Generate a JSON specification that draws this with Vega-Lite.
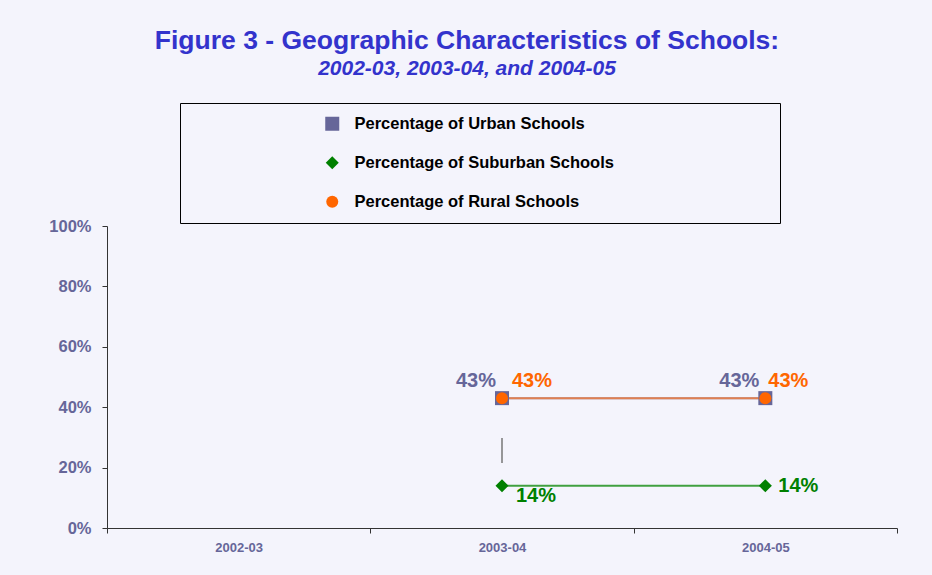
{
  "$schema": "https://vega.github.io/schema/vega-lite/v6.json",
  "width": 790,
  "height": 302,
  "autosize": {"type": "none"},
  "padding": {"left": 107, "top": 226, "right": 35, "bottom": 47},
  "background": "#F4F4FC",
  "config": {"font": "Liberation Sans", "view": {"stroke": null}},
  "title": {
    "text": "Figure 3 - Geographic Characteristics of Schools:",
    "subtitle": "2002-03, 2003-04, and 2004-05",
    "anchor": "middle",
    "dx": -35,
    "offset": 24,
    "font": "Liberation Sans",
    "fontSize": 26.5,
    "fontWeight": "bold",
    "color": "#3333CC",
    "subtitleFont": "Liberation Sans",
    "subtitleFontSize": 21,
    "subtitleFontStyle": "italic",
    "subtitleFontWeight": "bold",
    "subtitleColor": "#3333CC",
    "subtitlePadding": 3
  },
  "datasets": {
    "schools": [
      {"year": "2003-04", "series": "Percentage of Urban Schools", "value": 0.43},
      {"year": "2004-05", "series": "Percentage of Urban Schools", "value": 0.43},
      {"year": "2003-04", "series": "Percentage of Suburban Schools", "value": 0.14},
      {"year": "2004-05", "series": "Percentage of Suburban Schools", "value": 0.14},
      {"year": "2003-04", "series": "Percentage of Rural Schools", "value": 0.43},
      {"year": "2004-05", "series": "Percentage of Rural Schools", "value": 0.43}
    ],
    "leader": [
      {"year": "2003-04", "lo": 0.215, "hi": 0.298}
    ]
  },
  "data": {"name": "schools"},
  "encoding": {
    "x": {
      "field": "year",
      "type": "nominal",
      "scale": {"domain": ["2002-03", "2003-04", "2004-05"], "paddingInner": 0, "paddingOuter": 0},
      "axis": {
        "title": null,
        "labelAngle": 0,
        "tickBand": "extent",
        "tickSize": 5,
        "tickColor": "#333333",
        "domainColor": "#333333",
        "labelPadding": 8,
        "labelFontSize": 13,
        "labelFontWeight": "bold",
        "labelColor": "#666699",
        "grid": false
      }
    },
    "y": {
      "field": "value",
      "type": "quantitative",
      "scale": {"domain": [0, 1]},
      "axis": {
        "title": null,
        "values": [0, 0.2, 0.4, 0.6, 0.8, 1],
        "format": ".0%",
        "tickSize": 5,
        "tickColor": "#333333",
        "domainColor": "#333333",
        "labelPadding": 11,
        "labelFontSize": 16.5,
        "labelFontWeight": "bold",
        "labelColor": "#666699",
        "grid": false
      }
    }
  },
  "layer": [
    {
      "data": {"name": "leader"},
      "mark": {"type": "rule", "color": "#777777", "strokeWidth": 1.5},
      "encoding": {
        "y": {"field": "lo", "type": "quantitative"},
        "y2": {"field": "hi"}
      }
    },
    {
      "transform": [{"filter": "datum.series === 'Percentage of Urban Schools'"}],
      "mark": {"type": "line", "strokeWidth": 2, "color": "#9999BB"},
      "encoding": {}
    },
    {
      "transform": [{"filter": "datum.series === 'Percentage of Suburban Schools'"}],
      "mark": {"type": "line", "strokeWidth": 2, "color": "#40A040"},
      "encoding": {}
    },
    {
      "transform": [{"filter": "datum.series === 'Percentage of Rural Schools'"}],
      "mark": {"type": "line", "strokeWidth": 2, "color": "#E07F50"},
      "encoding": {}
    },
    {
      "mark": {"type": "point", "filled": true, "opacity": 1},
      "encoding": {
        "color": {
          "field": "series",
          "scale": {
            "domain": ["Percentage of Urban Schools", "Percentage of Suburban Schools", "Percentage of Rural Schools"],
            "range": ["#666699", "#008000", "#FF6600"]
          },
          "legend": {
            "title": "\u00a0",
            "titleOrient": "right",
            "titlePadding": 153.5,
            "titleFontSize": 10,
            "orient": "none",
            "legendX": 73,
            "legendY": -123,
            "padding": 12.5,
            "strokeColor": "#000000",
            "fillColor": "#F4F4FC",
            "symbolOffset": 131.5,
            "labelOffset": 14,
            "rowPadding": 22,
            "labelFontSize": 16.5,
            "labelFontWeight": "bold",
            "labelLimit": 400,
            "encode": {
              "labels": {
                "fill": {"value": {"expr": "datum.value === 'Percentage of Suburban Schools' ? '#008000' : datum.value === 'Percentage of Rural Schools' ? '#FF6600' : '#666699'"}}
              }
            }
          }
        },
        "shape": {
          "field": "series",
          "scale": {
            "domain": ["Percentage of Urban Schools", "Percentage of Suburban Schools", "Percentage of Rural Schools"],
            "range": ["square", "diamond", "circle"]
          },
          "legend": null
        },
        "size": {
          "field": "series",
          "scale": {
            "domain": ["Percentage of Urban Schools", "Percentage of Suburban Schools", "Percentage of Rural Schools"],
            "range": [196, 144, 196]
          },
          "legend": null
        }
      }
    },
    {
      "transform": [{"filter": "datum.series === 'Percentage of Urban Schools'"}],
      "mark": {"type": "text", "align": "right", "baseline": "alphabetic", "dx": -6, "dy": -11, "fontSize": 20, "fontWeight": "bold", "color": "#666699"},
      "encoding": {"text": {"field": "value", "format": ".0%"}}
    },
    {
      "transform": [{"filter": "datum.series === 'Percentage of Rural Schools' && datum.year === '2003-04'"}],
      "mark": {"type": "text", "align": "left", "baseline": "alphabetic", "dx": 10, "dy": -11, "fontSize": 20, "fontWeight": "bold", "color": "#FF6600"},
      "encoding": {"text": {"field": "value", "format": ".0%"}}
    },
    {
      "transform": [{"filter": "datum.series === 'Percentage of Rural Schools' && datum.year === '2004-05'"}],
      "mark": {"type": "text", "align": "left", "baseline": "alphabetic", "dx": 3, "dy": -11, "fontSize": 20, "fontWeight": "bold", "color": "#FF6600"},
      "encoding": {"text": {"field": "value", "format": ".0%"}}
    },
    {
      "transform": [{"filter": "datum.series === 'Percentage of Suburban Schools' && datum.year === '2003-04'"}],
      "mark": {"type": "text", "align": "left", "baseline": "alphabetic", "dx": 14, "dy": 16, "fontSize": 20, "fontWeight": "bold", "color": "#008000"},
      "encoding": {"text": {"field": "value", "format": ".0%"}}
    },
    {
      "transform": [{"filter": "datum.series === 'Percentage of Suburban Schools' && datum.year === '2004-05'"}],
      "mark": {"type": "text", "align": "left", "baseline": "middle", "dx": 13, "dy": 0, "fontSize": 20, "fontWeight": "bold", "color": "#008000"},
      "encoding": {"text": {"field": "value", "format": ".0%"}}
    }
  ]
}
